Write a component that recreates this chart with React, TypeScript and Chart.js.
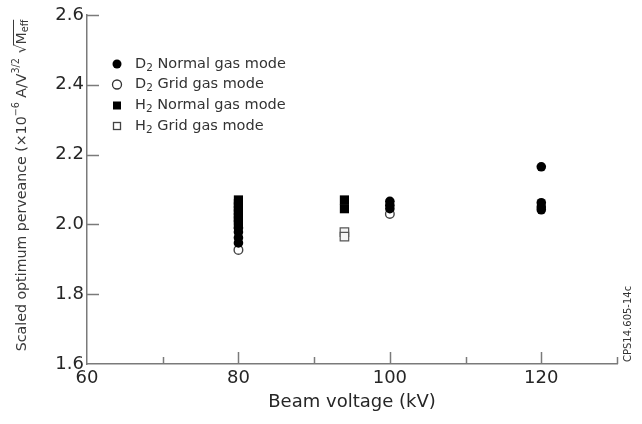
import React, { useEffect, useRef } from "react";
import { Chart, registerables } from "chart.js";

Chart.register(...registerables);

// Beam voltage (kV) and scaled optimum perveance values
const d2NormalX = [80, 80, 80, 80, 100, 100, 100, 120, 120, 120, 120];
const d2NormalY = [1.99, 1.978, 1.962, 1.947, 2.066, 2.055, 2.045, 2.165, 2.062, 2.05, 2.042];
const d2GridX = [80, 100];
const d2GridY = [1.927, 2.03];
const h2NormalX = [80, 80, 80, 80, 80, 80, 80, 80, 94, 94];
const h2NormalY = [2.07, 2.06, 2.05, 2.04, 2.03, 2.02, 2.01, 2.0, 2.07, 2.045];
const h2GridX = [94, 94];
const h2GridY = [1.978, 1.965];

const xTickLabels = [60, 80, 100, 120];
const legendLabels = [
  ["D", "2", " Normal gas mode"],
  ["D", "2", " Grid gas mode"],
  ["H", "2", " Normal gas mode"],
  ["H", "2", " Grid gas mode"],
];

const FONT = "'DejaVu Sans', sans-serif";
const TEXT = "#262626";
const AXIS = "#7a7a7a";

const pts = (xs: number[], ys: number[]) => xs.map((x, i) => ({ x, y: ys[i] }));

type Seg = { t: string; size: number; dy: number };

function drawSegs(ctx: CanvasRenderingContext2D, segs: Seg[], x: number, y: number) {
  let cx = x;
  for (const s of segs) {
    ctx.font = `${s.size}px ${FONT}`;
    ctx.fillText(s.t, cx, y + s.dy);
    cx += ctx.measureText(s.t).width;
  }
  return cx;
}
function segsWidth(ctx: CanvasRenderingContext2D, segs: Seg[]) {
  let w = 0;
  for (const s of segs) {
    ctx.font = `${s.size}px ${FONT}`;
    w += ctx.measureText(s.t).width;
  }
  return w;
}

const decor = {
  id: "decor",
  afterDraw(chart: any) {
    const ctx = chart.ctx as CanvasRenderingContext2D;
    const xs = chart.scales.x;
    const ys = chart.scales.y;
    const area = chart.chartArea;
    ctx.save();
    // inward ticks
    ctx.strokeStyle = AXIS;
    ctx.lineWidth = 1.5;
    for (let v = 1.8; v <= 2.61; v += 0.2) {
      const py = Math.round(ys.getPixelForValue(v)) + 0.5;
      ctx.beginPath();
      ctx.moveTo(area.left, py);
      ctx.lineTo(area.left + 12, py);
      ctx.stroke();
    }
    for (let v = 70; v <= 130; v += 10) {
      const px = Math.round(xs.getPixelForValue(v)) + 0.5;
      const len = v % 20 === 0 ? 12 : 7;
      ctx.beginPath();
      ctx.moveTo(px, area.bottom);
      ctx.lineTo(px, area.bottom - len);
      ctx.stroke();
    }

    // y title
    ctx.fillStyle = "#3a3a3a";
    ctx.textBaseline = "middle";
    ctx.textAlign = "left";
    const big = 14.2;
    const small = 9.6;
    const tsegs: Seg[] = [
      { t: "Scaled optimum perveance (\u00d710", size: big, dy: 0 },
      { t: "\u22126", size: small, dy: -5.5 },
      { t: " A/V", size: big, dy: 0 },
      { t: "3/2", size: small, dy: -5.5 },
      { t: " \u221a", size: big, dy: 0 },
      { t: "M", size: big, dy: 0 },
      { t: "eff", size: small, dy: 3.5 },
    ];
    ctx.save();
    ctx.translate(22, (area.top + area.bottom) / 2 - 4);
    ctx.rotate(-Math.PI / 2);
    const tw = segsWidth(ctx, tsegs);
    const startX = -tw / 2;
    const endX = drawSegs(ctx, tsegs, startX, 0);
    ctx.font = `${big}px ${FONT}`;
    const mW = ctx.measureText("M").width;
    ctx.font = `${small}px ${FONT}`;
    const effW = ctx.measureText("eff").width;
    ctx.strokeStyle = "#3a3a3a";
    ctx.lineWidth = 1;
    ctx.beginPath();
    ctx.moveTo(endX - effW - mW - 1, -8.5);
    ctx.lineTo(endX, -8.5);
    ctx.stroke();
    ctx.restore();

    // code label
    ctx.save();
    ctx.translate(628, 362);
    ctx.rotate(-Math.PI / 2);
    ctx.font = `10px ${FONT}`;
    ctx.fillStyle = "#333";
    ctx.textAlign = "left";
    ctx.textBaseline = "middle";
    ctx.fillText("CPS14.605-14c", 0, 0);
    ctx.restore();

    // legend
    const rows = [64, 84.5, 105.5, 126];
    const mx = 117;
    rows.forEach((ry, i) => {
      ctx.lineWidth = 1.3;
      ctx.strokeStyle = "#111";
      if (i === 0 || i === 1) {
        ctx.beginPath();
        ctx.arc(mx, ry, 4.5, 0, Math.PI * 2);
        if (i === 0) {
          ctx.fillStyle = "#000";
          ctx.fill();
        } else {
          ctx.fillStyle = "#fff";
          ctx.fill();
          ctx.strokeStyle = "#333";
          ctx.stroke();
        }
      } else {
        if (i === 2) {
          ctx.fillStyle = "#000";
          ctx.fillRect(mx - 4, ry - 4, 8, 8);
        } else {
          ctx.fillStyle = "#fff";
          ctx.fillRect(mx - 4, ry - 4, 8, 8);
          ctx.strokeStyle = "#444";
          ctx.strokeRect(mx - 3.5, ry - 3.5, 7, 7);
        }
      }
      ctx.fillStyle = "#333";
      ctx.textBaseline = "middle";
      const [a, b, c] = legendLabels[i];
      drawSegs(
        ctx,
        [
          { t: a, size: 14.5, dy: 0 },
          { t: b, size: 10.5, dy: 4 },
          { t: c, size: 14.5, dy: 0 },
        ],
        135,
        ry
      );
    });
    ctx.restore();
  },
};

export default function App() {
  const ref = useRef<HTMLCanvasElement | null>(null);
  useEffect(() => {
    document.body.style.margin = "0";
    const canvas = ref.current!;
    const chart = new Chart(canvas, {
      type: "scatter",
      data: {
        datasets: [
          {
            label: "H2 Normal gas mode",
            data: pts(h2NormalX, h2NormalY),
            pointStyle: "rect",
            pointRadius: 6.5,
            backgroundColor: "#000",
            borderColor: "#000",
            borderWidth: 0,
          },
          {
            label: "H2 Grid gas mode",
            data: pts(h2GridX, h2GridY),
            pointStyle: "rect",
            pointRadius: 6,
            backgroundColor: "#f4f4f4",
            borderColor: "#555",
            borderWidth: 1.2,
          },
          {
            label: "D2 Normal gas mode",
            data: pts(d2NormalX, d2NormalY),
            pointStyle: "circle",
            pointRadius: 4.8,
            backgroundColor: "#000",
            borderColor: "#000",
            borderWidth: 0,
          },
          {
            label: "D2 Grid gas mode",
            data: pts(d2GridX, d2GridY),
            pointStyle: "circle",
            pointRadius: 4.3,
            backgroundColor: "#fff",
            borderColor: "#444",
            borderWidth: 1.4,
          },
        ],
      },
      options: {
        animation: false,
        responsive: false,
        events: [],
        layout: { padding: { left: 0, right: 25, top: 15, bottom: 0 } },
        plugins: {
          legend: { display: false },
          tooltip: { enabled: false },
        },
        scales: {
          x: {
            type: "linear",
            min: 60,
            max: 130,
            afterFit: (s: any) => {
              s.height = 60;
            },
            ticks: {
              stepSize: 10,
              autoSkip: false,
              maxRotation: 0,
              padding: 4,
              color: TEXT,
              font: { family: FONT, size: 18 },
              callback: (v: any) => (xTickLabels.includes(Number(v)) ? String(v) : ""),
            },
            grid: { display: false, drawTicks: false },
            border: { display: true, color: AXIS, width: 1.5 },
            title: {
              display: true,
              text: "Beam voltage (kV)",
              color: TEXT,
              font: { family: FONT, size: 18 },
              padding: { top: 0, bottom: 11 },
            },
          },
          y: {
            type: "linear",
            min: 1.6,
            max: 2.6,
            afterFit: (s: any) => {
              s.width = 87;
            },
            ticks: {
              stepSize: 0.2,
              padding: 3,
              color: TEXT,
              font: { family: FONT, size: 18 },
              callback: (v: any) => Number(v).toFixed(1),
            },
            grid: { display: false, drawTicks: false },
            border: { display: true, color: AXIS, width: 1.5 },
          },
        },
      },
      plugins: [decor],
    });
    return () => chart.destroy();
  }, []);
  return (
    <div style={{ width: 642, height: 424, background: "#fff" }}>
      <canvas ref={ref} width={642} height={424} />
    </div>
  );
}
